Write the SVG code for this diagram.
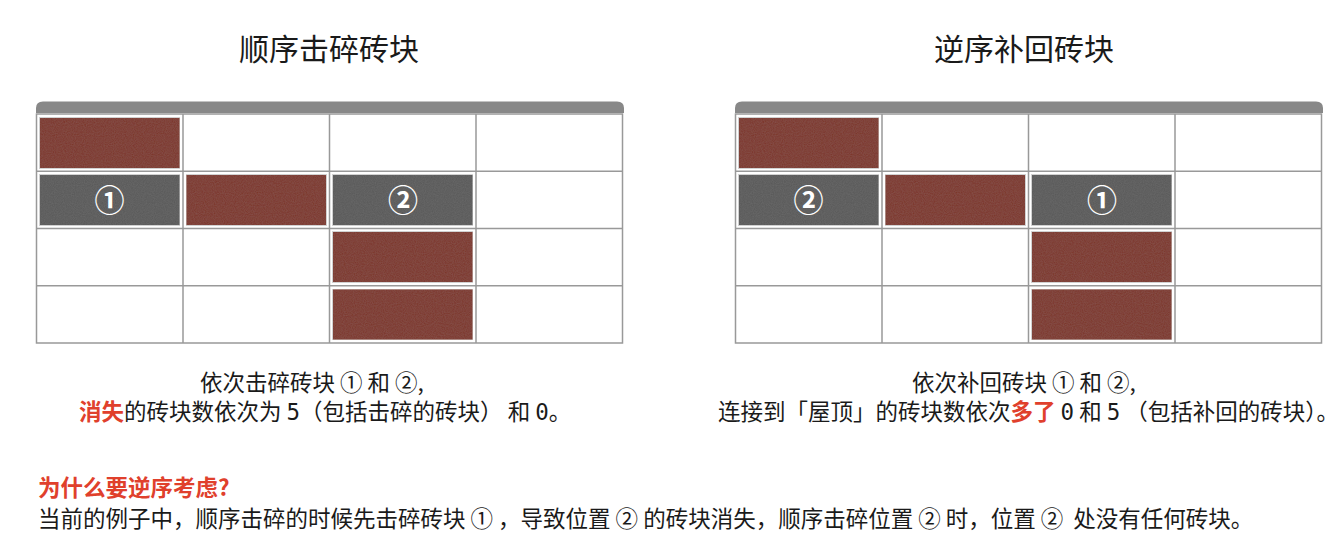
<svg xmlns="http://www.w3.org/2000/svg" width="1337" height="542" viewBox="0 0 1337 542">
<style>
.t{font-family:"Noto Sans CJK SC","Noto Sans",sans-serif;fill:#1a1a1a}
.title{font-size:30px}
.cap{font-size:22.5px}
.mono{font-family:"DejaVu Sans Mono","Liberation Mono",monospace}
.red{fill:#e0402c}
.grid{fill:none;stroke:#999;stroke-width:1.5}
.roof{fill:#888}
.brick{fill:#7b3225;stroke:#d0d0d0;stroke-width:1}
.stone{fill:#575757;stroke:#d0d0d0;stroke-width:1}
.num{font-family:"Noto Sans CJK SC",sans-serif;font-size:30px;font-weight:bold;fill:#fff;text-anchor:middle}
</style>
<defs>
<filter id="noise" x="0" y="0" width="100%" height="100%">
<feTurbulence type="fractalNoise" baseFrequency="0.9" numOctaves="2" seed="3" result="n"/>
<feColorMatrix in="n" type="matrix" values="0 0 0 0 1  0 0 0 0 1  0 0 0 0 1  0 0 0 0.05 0" result="w"/>
<feComposite in="w" in2="SourceGraphic" operator="atop"/>
</filter>
<g id="gridShape">
<path class="roof" d="M36,113 L36,108 Q36,101.5 43,101.5 L617,101.5 Q624,101.5 624,108 L624,113 Z"/>
<rect class="grid" x="36.5" y="114" width="586" height="229"/>
<path class="grid" d="M183,114V343M329.5,114V343M476,114V343M36.5,171.25H622.5M36.5,228.5H622.5M36.5,285.75H622.5"/>
</g>
</defs>

<g id="left-title"><text class="t title" x="329" y="60" text-anchor="middle">顺序击碎砖块</text></g>
<g id="right-title"><text class="t title" x="1024" y="60" text-anchor="middle">逆序补回砖块</text></g>

<g id="left-wall">
<use href="#gridShape"/>
<rect class="brick" filter="url(#noise)" x="39.5" y="117.5" width="140.5" height="51"/>
<rect class="stone" filter="url(#noise)" x="39.5" y="174.5" width="140.5" height="51"/>
<rect class="brick" filter="url(#noise)" x="186" y="174.5" width="140.5" height="51"/>
<rect class="stone" filter="url(#noise)" x="332.5" y="174.5" width="140.5" height="51"/>
<rect class="brick" filter="url(#noise)" x="332.5" y="231.5" width="140.5" height="51"/>
<rect class="brick" filter="url(#noise)" x="332.5" y="289" width="140.5" height="51"/>
<text class="num" x="109.5" y="211">①</text>
<text class="num" x="403" y="211">②</text>
</g>

<g id="right-wall" transform="translate(699,0)">
<use href="#gridShape"/>
<rect class="brick" filter="url(#noise)" x="39.5" y="117.5" width="140.5" height="51"/>
<rect class="stone" filter="url(#noise)" x="39.5" y="174.5" width="140.5" height="51"/>
<rect class="brick" filter="url(#noise)" x="186" y="174.5" width="140.5" height="51"/>
<rect class="stone" filter="url(#noise)" x="332.5" y="174.5" width="140.5" height="51"/>
<rect class="brick" filter="url(#noise)" x="332.5" y="231.5" width="140.5" height="51"/>
<rect class="brick" filter="url(#noise)" x="332.5" y="289" width="140.5" height="51"/>
<text class="num" x="109.5" y="211">②</text>
<text class="num" x="403" y="211">①</text>
</g>

<g id="left-caption">
<text class="t cap" x="200" y="391">依次击碎砖块 ① 和 ②,</text>
<text class="t cap" x="79" y="420"><tspan class="red" font-weight="bold">消失</tspan>的砖块数依次为 <tspan class="mono">5</tspan>（包括击碎的砖块） 和 <tspan class="mono">0</tspan>。</text>
</g>

<g id="right-caption">
<text class="t cap" x="912" y="391">依次补回砖块 ① 和 ②,</text>
<text class="t cap" x="718" y="420">连接到「屋顶」的砖块数依次<tspan class="red" font-weight="bold">多了</tspan> <tspan class="mono">0</tspan> 和 <tspan class="mono">5</tspan> （包括补回的砖块）。</text>
</g>

<g id="note">
<text class="t red" x="38" y="496" font-size="22.5" font-weight="bold">为什么要逆序考虑?</text>
<text class="t" x="38" y="527" font-size="22.5">当前的例子中，顺序击碎的时候先击碎砖块 ① ，导致位置 ② 的砖块消失，顺序击碎位置 ② 时，位置 ②&#160; 处没有任何砖块。</text>
</g>
</svg>
